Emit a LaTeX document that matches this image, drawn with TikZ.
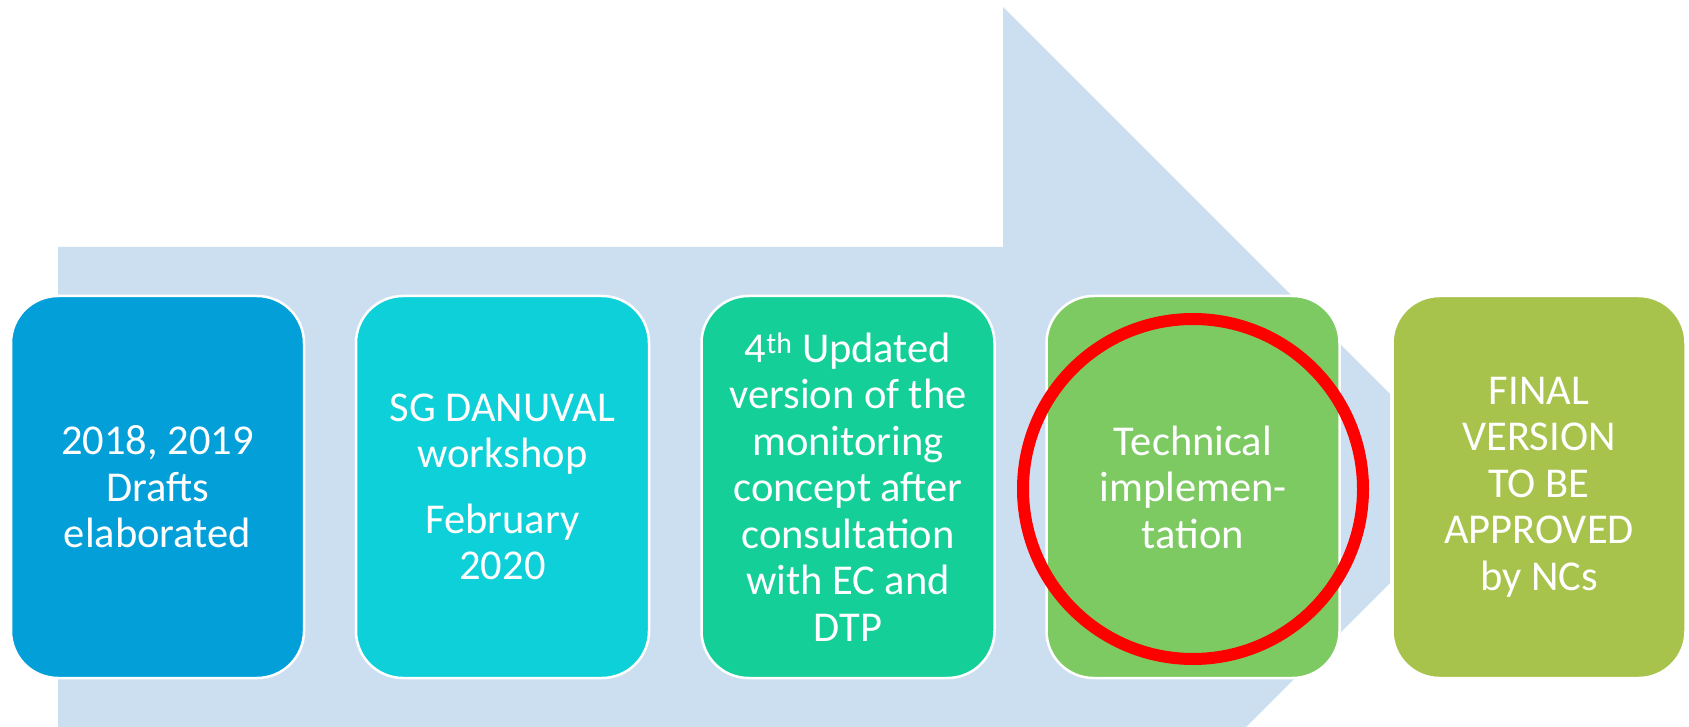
\documentclass[tikz,border=0pt]{standalone}
\usepackage{fontspec}
\setmainfont{Carlito}
\definecolor{arrowbg}{HTML}{CCDFF0}
\definecolor{cA}{HTML}{039FD8}
\definecolor{cB}{HTML}{0ED0D8}
\definecolor{cC}{HTML}{14CF98}
\definecolor{cD}{HTML}{7DCA63}
\definecolor{cE}{HTML}{A7C34B}
\definecolor{ring}{HTML}{FF0000}
\tikzset{
  stagebox/.style={draw=white, line width=2.5pt, rounded corners=47pt,
    minimum width=293pt, minimum height=382pt, text width=290pt,
    align=flush center, text=white, inner sep=0pt,
    font=\fontsize{42.5}{46.5}\selectfont},
  ringmark/.style={draw=ring, line width=12pt, circle, minimum size=340pt, inner sep=0pt}
}
\begin{document}
\begin{tikzpicture}[x=1pt,y=-1pt]
\useasboundingbox (0,0) rectangle (1689,727);
\fill[white] (0,0) rectangle (1689,727);
\fill[arrowbg] (58,247) -- (1003,247) -- (1003,7) -- (1390,394) -- (1390,583) -- (1243,730) -- (58,730) -- cycle;
\node[stagebox, fill=cA] (b1) at (157.5,487) {2018, 2019\\Drafts\\elaborated};
\node[stagebox, fill=cB] (b2) at (502.5,487) {SG DANUVAL\\workshop\\[19pt]February\\2020};
\node[stagebox, fill=cC] (b3) at (848,487) {4\textsuperscript{th} Updated\\version of the\\monitoring\\concept after\\consultation\\with EC and\\DTP};
\node[stagebox, fill=cD] (b4) at (1193,487) {Technical\\implemen-\\tation};
\node[stagebox, fill=cE] (b5) at (1539,487) {FINAL\\VERSION\\TO BE\\APPROVED\\by NCs};
\node[ringmark] (ring) at (1193,489) {};
\end{tikzpicture}
\end{document}
